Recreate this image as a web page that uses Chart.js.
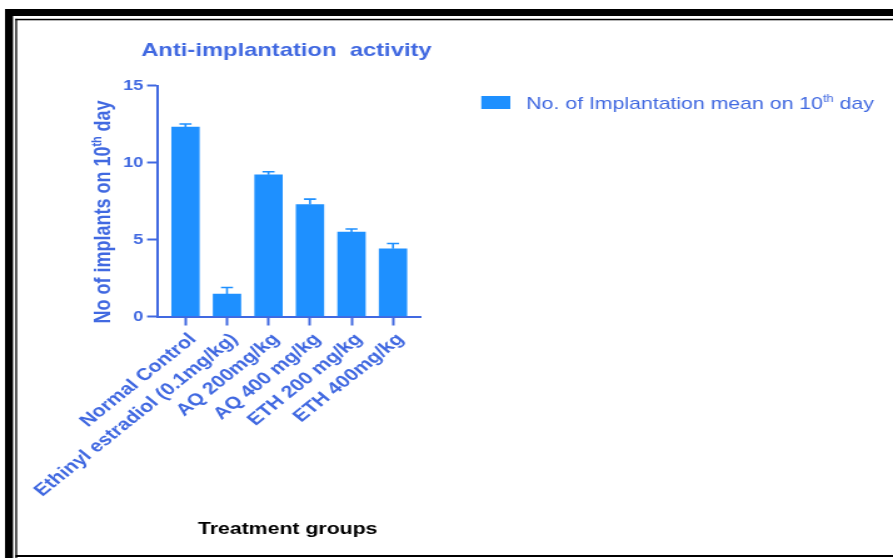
<!DOCTYPE html>
<html lang="en">
<head>
    <meta charset="UTF-8">
    <title>Anti-implantation activity</title>
    <script src="https://cdn.jsdelivr.net/npm/chart.js"></script>
    <style>
        body { margin: 0; padding: 0; background: #fff; overflow: hidden; }
        /* the original figure is stretched sideways, so the canvas is drawn narrow and widened here */
        #chart { display: block; transform: scaleX(1.2507); transform-origin: 0 0; }
    </style>
</head>
<body>

    <canvas id="chart" width="714" height="558"></canvas>

    <script>
        const groups = ['Normal Control', 'Ethinyl estradiol (0.1mg/kg)', 'AQ 200mg/kg', 'AQ 400 mg/kg', 'ETH 200 mg/kg', 'ETH 400mg/kg'];
        const means = [12.3, 1.45, 9.2, 7.27, 5.48, 4.4];
        const sems = [0.2, 0.43, 0.2, 0.35, 0.2, 0.34];
        const yTicks = [0, 5, 10, 15];

        const blue = '#4169e1';
        const barBlue = '#1e90ff';
        const font = '"Liberation Sans", Arial, sans-serif';

        // text with a small raised "th"
        function drawSup(ctx, before, sup, after, size, weight) {
            ctx.font = `${weight} ${size}px ${font}`;
            const w1 = ctx.measureText(before).width;
            ctx.font = `${weight} ${size * 0.6}px ${font}`;
            const w2 = ctx.measureText(sup).width;
            ctx.font = `${weight} ${size}px ${font}`;
            const w3 = ctx.measureText(after).width;
            return { w: w1 + w2 + w3, draw(x, y) {
                ctx.font = `${weight} ${size}px ${font}`;
                ctx.fillText(before, x, y);
                ctx.font = `${weight} ${size * 0.6}px ${font}`;
                ctx.fillText(sup, x + w1, y - size * 0.38);
                ctx.font = `${weight} ${size}px ${font}`;
                ctx.fillText(after, x + w1 + w2, y);
            } };
        }

        const figurePlugin = {
            id: 'figure',
            beforeDraw(chart) {
                const ctx = chart.ctx, W = chart.width, H = chart.height;
                ctx.save();
                ctx.fillStyle = '#fff';
                ctx.fillRect(0, 0, W, H);
                // double black frame
                ctx.fillStyle = '#000';
                ctx.fillRect(4, 9, 6.4, H - 9);
                ctx.fillRect(4, 9, W - 4, 7);
                ctx.fillRect(12.3, 18.8, 1.3, H - 18.8);
                ctx.fillRect(12.3, 18.8, W - 12.3, 1.5);
                ctx.fillRect(12.3, 555, W - 12.3, 2);
                ctx.restore();
            },
            afterDatasetsDraw(chart) {
                const ctx = chart.ctx;
                const xs = chart.scales.x, ys = chart.scales.y;
                ctx.save();
                ctx.strokeStyle = barBlue;
                ctx.lineWidth = 1.6;
                means.forEach((m, i) => {
                    const x = xs.getPixelForValue(i);
                    const y0 = ys.getPixelForValue(m);
                    const y1 = ys.getPixelForValue(m + sems[i]);
                    ctx.beginPath();
                    ctx.moveTo(x, y0);
                    ctx.lineTo(x, y1);
                    ctx.moveTo(x - 4.8, y1);
                    ctx.lineTo(x + 4.8, y1);
                    ctx.stroke();
                });
                ctx.restore();
            },
            afterDraw(chart) {
                const ctx = chart.ctx;
                ctx.save();
                ctx.textBaseline = 'alphabetic';

                // title
                ctx.fillStyle = blue;
                ctx.font = `bold 19px ${font}`;
                ctx.textAlign = 'center';
                ctx.fillText('Anti-implantation  activity', 229, 56);

                // x axis title
                ctx.fillStyle = '#000';
                ctx.font = `bold 17px ${font}`;
                ctx.fillText('Treatment groups', 230, 534);

                // y axis title
                ctx.textAlign = 'left';
                ctx.fillStyle = blue;
                const yt = drawSup(ctx, 'No of implants on 10', 'th', ' day', 18, 'bold');
                ctx.translate(88, 212);
                ctx.rotate(-Math.PI / 2);
                yt.draw(-yt.w / 2, 0);
                ctx.setTransform(1, 0, 0, 1, 0, 0);

                // legend
                ctx.fillStyle = barBlue;
                ctx.fillRect(384.8, 96, 23.2, 13);
                ctx.fillStyle = blue;
                const lg = drawSup(ctx, 'No. of Implantation mean on 10', 'th', ' day', 17, 'normal');
                lg.draw(420.8, 108.5);
                ctx.restore();
            }
        };

        new Chart(document.getElementById('chart').getContext('2d'), {
            type: 'bar',
            data: {
                datasets: [{
                    label: 'No. of Implantation mean on 10th day',
                    data: means.map((m, i) => ({ x: i, y: m })),
                    backgroundColor: barBlue,
                    borderWidth: 0,
                    barThickness: 22
                }]
            },
            options: {
                responsive: false,
                animation: false,
                devicePixelRatio: 1,
                layout: { padding: { top: 85.5, right: 377.2, left: 0, bottom: 0 } },
                plugins: { legend: { display: false }, title: { display: false }, tooltip: { enabled: false } },
                scales: {
                    x: {
                        type: 'linear',
                        min: -0.66,
                        max: 5.68,
                        offset: false,
                        afterBuildTicks: s => { s.ticks = groups.map((g, i) => ({ value: i })); },
                        afterFit: s => { s.height = 558 - 316.5; },
                        grid: { offset: false, drawOnChartArea: false, drawTicks: true, tickLength: 9, tickWidth: 2, color: blue },
                        border: { color: blue, width: 2 },
                        ticks: {
                            callback: v => groups[v],
                            autoSkip: false,
                            minRotation: 45,
                            maxRotation: 45,
                            padding: 4,
                            labelOffset: 6,
                            color: blue,
                            font: { family: font, size: 17, weight: 'bold' }
                        }
                    },
                    y: {
                        min: 0,
                        max: 15,
                        afterBuildTicks: s => { s.ticks = yTicks.map(v => ({ value: v })); },
                        afterFit: s => { s.width = 126.4; },
                        grid: { drawOnChartArea: false, drawTicks: true, tickLength: 8.8, tickWidth: 2, color: blue },
                        border: { color: blue, width: 2 },
                        ticks: {
                            padding: 3,
                            color: blue,
                            font: { family: font, size: 14.5, weight: 'bold' }
                        }
                    }
                }
            },
            plugins: [figurePlugin]
        });
    </script>

</body>
</html>
